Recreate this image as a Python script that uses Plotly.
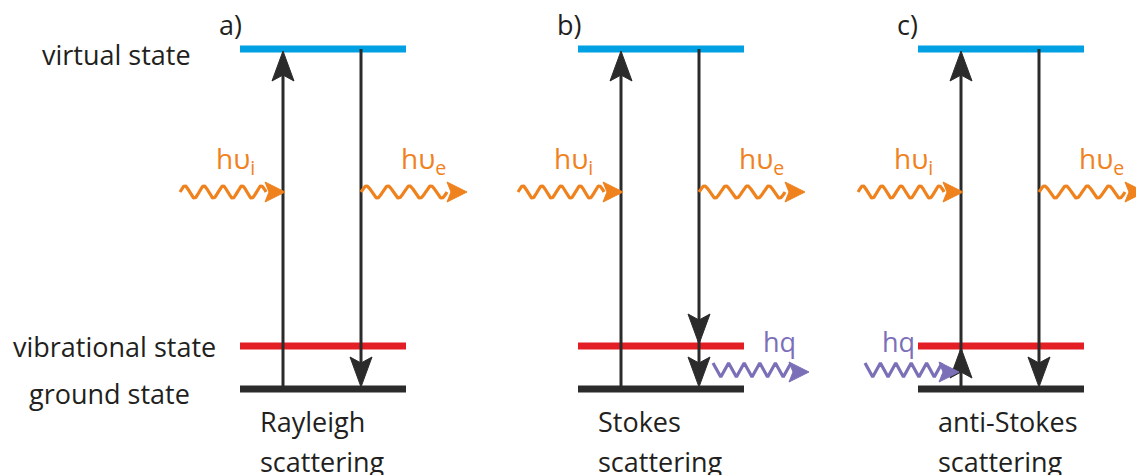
import numpy as np
import plotly.graph_objects as go

# ---- data ----
panel_labels = ["a)", "b)", "c)"]
panel_names = [["Rayleigh", "scattering"], ["Stokes", "scattering"], ["anti-Stokes", "scattering"]]
panel_left = [240, 578, 918]          # left edge of level bars (px)
bar_width = 166
level_names = ["virtual state", "vibrational state", "ground state"]
level_y = [49, 346, 389]
level_colors = ["#00a0e3", "#e31e24", "#2b2b2b"]
level_label_x = [40, 11, 27]
up_x_rel = 43      # up arrow position relative to left edge
down_x_rel = 121   # down arrow position
up_heads = [[0], [0], [1, 0]]         # level indices where heads sit
down_heads = [[2], [1, 2], [2]]
phonon = ["none", "out", "in"]

ORANGE = "#f0821e"
PURPLE = "#7b70b8"
DARK = "#2b2b2b"
TXT = "#231f20"
FONT = "Open Sans"

fig = go.Figure()

def poly(xs, ys, color):
    fig.add_trace(go.Scatter(x=xs + [xs[0]], y=ys + [ys[0]], mode="lines", fill="toself",
                             fillcolor=color, line=dict(color=color, width=1),
                             hoverinfo="skip", showlegend=False))

def line(xs, ys, color, width):
    fig.add_trace(go.Scatter(x=xs, y=ys, mode="lines", line=dict(color=color, width=width),
                             hoverinfo="skip", showlegend=False))

def vhead(x, tip, direction, color=DARK):
    L, W, notch = 30, 11, 6
    base = tip - direction * L
    poly([x, x - W, x, x + W], [tip, base, base + direction * notch, base], color)

def hhead(xtip, y, color, L=20, W=10, notch=4):
    poly([xtip, xtip - L, xtip - L + notch, xtip - L], [y, y - W, y, y + W], color)

for p in range(3):
    x0 = panel_left[p]
    for lv in range(3):
        line([x0, x0 + bar_width], [level_y[lv], level_y[lv]], level_colors[lv], 7)
    ux = x0 + up_x_rel
    line([ux, ux], [level_y[2], level_y[0] + 20], DARK, 3)
    for h in up_heads[p]:
        vhead(ux, level_y[h] + 2, -1)
    dx = x0 + down_x_rel
    line([dx, dx], [level_y[0], level_y[2] - 20], DARK, 3)
    for h in down_heads[p]:
        vhead(dx, level_y[h] - 2, 1)

    # incoming photon wave
    wy = 192
    xs = np.linspace(x0 - 60, ux - 17, 200)
    ys = wy - 6 * np.sin((xs - (x0 - 60)) / (ux - 17 - (x0 - 60)) * 2 * np.pi * 4.5)
    line(list(xs), list(ys), ORANGE, 3.2)
    hhead(ux + 2, wy, ORANGE)
    # outgoing photon wave
    xs = np.linspace(dx, dx + 86, 200)
    ys = wy - 6 * np.sin((xs - dx) / 86 * 2 * np.pi * 4.0)
    line(list(xs), list(ys), ORANGE, 3.2)
    hhead(dx + 106, wy, ORANGE)

    fig.add_annotation(x=ux - 69, y=160, text="hυ<sub>i</sub>", showarrow=False,
                       xanchor="left", yanchor="middle",
                       font=dict(family=FONT, size=28, color=ORANGE))
    fig.add_annotation(x=dx + 38, y=160, text="hυ<sub>e</sub>", showarrow=False,
                       xanchor="left", yanchor="middle",
                       font=dict(family=FONT, size=28, color=ORANGE))

    fig.add_annotation(x=x0 - 23, y=24, text=panel_labels[p], showarrow=False,
                       xanchor="left", yanchor="middle",
                       font=dict(family=FONT, size=27, color=TXT))
    fig.add_annotation(x=x0 + 18, y=421, text=panel_names[p][0], showarrow=False,
                       xanchor="left", yanchor="middle",
                       font=dict(family=FONT, size=27, color=TXT))
    fig.add_annotation(x=x0 + 18, y=461, text=panel_names[p][1], showarrow=False,
                       xanchor="left", yanchor="middle",
                       font=dict(family=FONT, size=27, color=TXT))

    if phonon[p] != "none":
        zy = 370
        if phonon[p] == "out":
            zs, ze, tip = dx + 14, dx + 92, dx + 110
            tx = dx + 62
        else:
            zs, ze, tip = x0 - 53, x0 + 24, x0 + 41
            tx = x0 - 38
        n = 10
        zx = list(np.linspace(zs, ze, n + 1))
        zyv = [zy + (7 if i % 2 else -7) for i in range(n + 1)]
        line(zx, zyv, PURPLE, 3.2)
        hhead(tip, zy + 2, PURPLE, L=20, W=10)
        fig.add_annotation(x=tx, y=341, text="hq", showarrow=False,
                           xanchor="left", yanchor="middle",
                           font=dict(family=FONT, size=27, color=PURPLE))

label_dy = [5, 0, 4]
for lv in range(3):
    fig.add_annotation(x=level_label_x[lv], y=level_y[lv] + label_dy[lv],
                       text=level_names[lv], showarrow=False,
                       xanchor="left", yanchor="middle",
                       font=dict(family=FONT, size=27, color=TXT))

fig.update_layout(width=1136, height=475, margin=dict(l=0, r=0, t=0, b=0),
                  paper_bgcolor="white", plot_bgcolor="white",
                  xaxis=dict(range=[0, 1136], visible=False),
                  yaxis=dict(range=[475, 0], visible=False))
fig.write_html("out.html")
